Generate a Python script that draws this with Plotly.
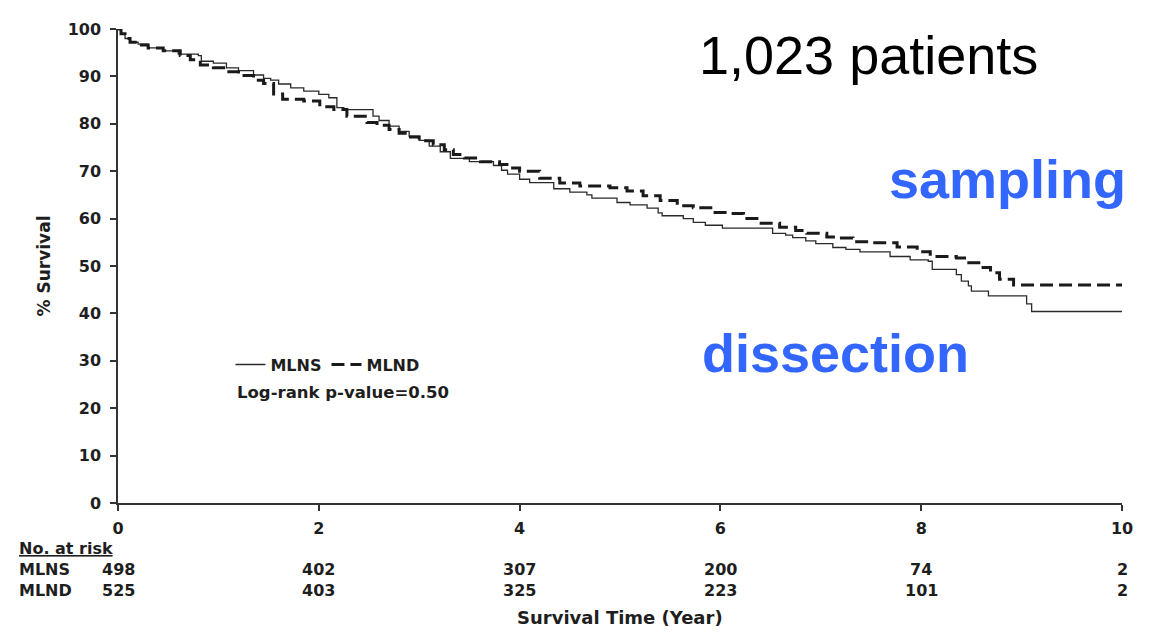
import plotly.graph_objects as go

# ---- data ----
mlns_t = [0, 0.03, 0.07, 0.12, 0.2, 0.3, 0.45, 0.6, 0.8, 0.83, 0.95, 1.08, 1.2, 1.35, 1.45, 1.52,
          1.6, 1.72, 1.85, 2.0, 2.1, 2.18, 2.25, 2.54, 2.6, 2.7, 2.8, 2.9, 3.0, 3.1, 3.21, 3.31,
          3.5, 3.74, 3.82, 3.88, 4.0, 4.1, 4.34, 4.5, 4.67, 4.72, 4.97, 5.1, 5.27, 5.38, 5.42,
          5.63, 5.73, 5.85, 6.02, 6.52, 6.65, 6.72, 6.85, 6.95, 7.12, 7.25, 7.39, 7.69, 7.89,
          8.07, 8.11, 8.35, 8.40, 8.47, 8.50, 8.67, 9.05, 9.1, 10]
mlns_s = [100, 99, 98, 97.2, 96.8, 96, 95.4, 94.7, 94.4, 93.2, 92.8, 91.8, 91.2, 90.3, 89.6, 89.2,
          88.4, 87.6, 86.9, 86.2, 85.5, 83.4, 83.0, 81.6, 80.7, 79.5, 78.4, 77.4, 76.5, 75.3, 74.1, 72.7,
          72.0, 71.2, 70.2, 69.4, 68.3, 67.6, 66.3, 65.6, 65.0, 64.3, 63.4, 62.9, 62.2, 61.2, 60.6,
          60.0, 59.2, 58.6, 58.0, 56.9, 56.5, 56.0, 55.3, 54.7, 53.9, 53.5, 53.0, 52.0, 51.3,
          51.0, 49.3, 48.2, 46.8, 45.8, 44.7, 43.7, 42.0, 40.4, 40.4]

mlnd_t = [0, 0.03, 0.07, 0.12, 0.2, 0.3, 0.45, 0.62, 0.72, 0.82, 0.95, 1.08, 1.2, 1.35, 1.45, 1.55,
          1.64, 1.85, 2.01, 2.15, 2.28, 2.48, 2.58, 2.7, 2.8, 2.88, 3.0, 3.14, 3.25, 3.34, 3.45, 3.61,
          3.8, 3.9, 4.0, 4.2, 4.4, 4.6, 4.9, 5.07, 5.23, 5.40, 5.57, 5.73, 5.93, 6.07, 6.23, 6.39,
          6.59, 6.75, 6.86, 7.06, 7.19, 7.32, 7.52, 7.76, 7.96, 8.09, 8.35, 8.45, 8.59, 8.69, 8.78,
          8.92, 10]
mlnd_s = [100, 99, 98, 97.2, 96.6, 96, 95.4, 94.4, 93.5, 92.4, 91.8, 91.0, 90.2, 89.2, 88.5, 86.3,
          85.2, 84.8, 83.6, 83.0, 81.6, 80.3, 79.7, 78.8, 78.0, 77.2, 76.4, 75.6, 74.5, 73.5, 72.8, 72.0,
          71.4, 70.7, 70.0, 68.5, 67.5, 66.9, 66.5, 65.8, 64.8, 63.8, 62.7, 62.3, 61.3, 61.1, 60.0, 59.0,
          58.2, 57.5, 56.9, 56.1, 55.9, 55.1, 54.9, 54.0, 53.0, 52.0, 51.7, 50.7, 49.7, 48.6, 47.2,
          46.0, 46.0]

risk_times = [0, 2, 4, 6, 8, 10]
risk_mlns = [498, 402, 307, 200, 74, 2]
risk_mlnd = [525, 403, 325, 223, 101, 2]

x_ticks = [0, 2, 4, 6, 8, 10]
y_ticks = [0, 10, 20, 30, 40, 50, 60, 70, 80, 90, 100]

SMALL = "DejaVu Sans"
BIG = "Liberation Sans, Arial, sans-serif"
INK = "#1e1e1e"
BLUE = "#3366ff"

fig = go.Figure()
fig.add_trace(go.Scatter(x=mlns_t, y=mlns_s, mode="lines", name="<b>MLNS</b>",
                         line=dict(shape="hv", color="#2a2a2a", width=1.3)))
fig.add_trace(go.Scatter(x=mlnd_t, y=mlnd_s, mode="lines", name="<b>MLND</b>",
                         line=dict(shape="hv", color="#1a1a1a", width=3, dash="13px,6px")))

ann = []
# big overlay texts
ann.append(dict(text="1,023 patients", x=0.5767, y=0.946, xref="paper", yref="paper",
                xanchor="left", yanchor="middle", showarrow=False,
                font=dict(family=BIG, size=54, color="#000000")))
ann.append(dict(text="<b>sampling</b>", x=0.766, y=0.684, xref="paper", yref="paper",
                xanchor="left", yanchor="middle", showarrow=False,
                font=dict(family=BIG, size=54, color=BLUE)))
ann.append(dict(text="<b>dissection</b>", x=0.5797, y=0.317, xref="paper", yref="paper",
                xanchor="left", yanchor="middle", showarrow=False,
                font=dict(family=BIG, size=54, color=BLUE)))
# log-rank
ann.append(dict(text="<b>Log-rank p-value=0.50</b>", x=0.117, y=0.234, xref="paper", yref="paper",
                xanchor="left", yanchor="middle", showarrow=False,
                font=dict(family=SMALL, size=16.5, color=INK)))
# at-risk table
ann.append(dict(text="<b><span style='text-decoration:underline'>No. at risk</span></b>",
                x=-0.1006, y=-0.0952, xref="paper", yref="paper",
                xanchor="left", yanchor="middle", showarrow=False,
                font=dict(family=SMALL, size=16, color=INK)))
for lab, yy in (("MLNS", -0.1408), ("MLND", -0.1843)):
    ann.append(dict(text=f"<b>{lab}</b>", x=-0.1006, y=yy, xref="paper", yref="paper",
                    xanchor="left", yanchor="middle", showarrow=False,
                    font=dict(family=SMALL, size=16, color=INK)))
for t, a, b in zip(risk_times, risk_mlns, risk_mlnd):
    for v, yy in ((a, -0.1408), (b, -0.1843)):
        ann.append(dict(text=f"<b>{v}</b>", x=t, y=yy, xref="x", yref="paper",
                        xanchor="center", yanchor="middle", showarrow=False,
                        font=dict(family=SMALL, size=16, color=INK)))
ann.append(dict(text="<b>Survival Time (Year)</b>", x=0.5, y=-0.242, xref="paper", yref="paper",
                xanchor="center", yanchor="middle", showarrow=False,
                font=dict(family=SMALL, size=18, color=INK)))

fig.update_layout(
    width=1143, height=625,
    margin=dict(l=110, r=29, t=12, b=130),
    paper_bgcolor="white", plot_bgcolor="white",
    showlegend=True,
    legend=dict(orientation="h", x=0.112, y=0.292, xanchor="left", yanchor="middle",
                font=dict(family=SMALL, size=16, color=INK), bgcolor="rgba(0,0,0,0)",
                itemwidth=30, tracegroupgap=0),
    annotations=ann,
    xaxis=dict(range=[0, 10], tickvals=x_ticks, ticktext=[f"<b>{v}</b>" for v in x_ticks],
               showgrid=False, zeroline=False, showline=True, linecolor="#333333", linewidth=1.5,
               ticks="outside", ticklen=6, tickwidth=1.5, tickcolor="#333333",
               ticklabelstandoff=4,
               tickfont=dict(family=SMALL, size=16, color=INK)),
    yaxis=dict(range=[0, 100], tickvals=y_ticks, ticktext=[f"<b>{v}</b>" for v in y_ticks],
               showgrid=False, zeroline=False, showline=True, linecolor="#333333", linewidth=1.5,
               ticks="outside", ticklen=6, tickwidth=1.5, tickcolor="#333333",
               ticklabelstandoff=6,
               title=dict(text="<b>% Survival</b>", standoff=13,
                          font=dict(family=SMALL, size=17, color=INK)),
               tickfont=dict(family=SMALL, size=16, color=INK)),
)

fig.write_html("out.html")
